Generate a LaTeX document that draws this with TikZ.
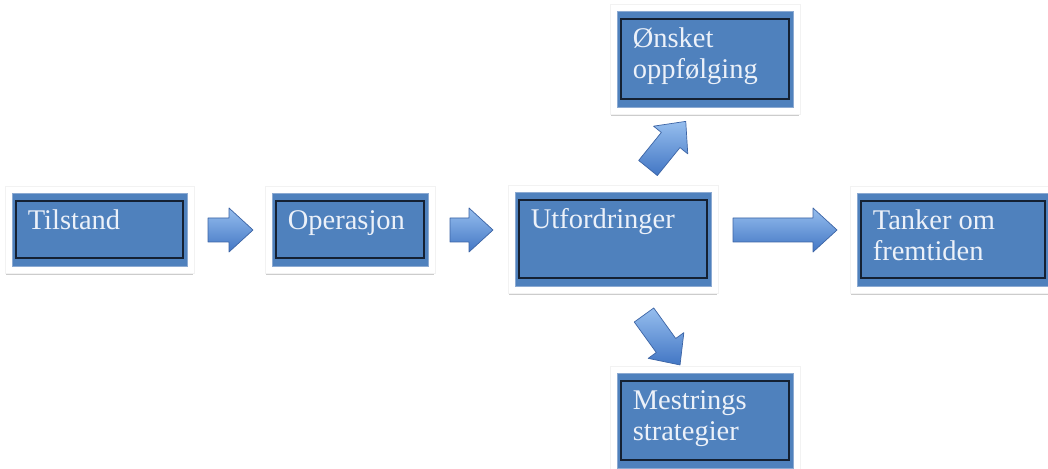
\documentclass[tikz,border=0pt]{standalone}
\usepackage{fontspec}
\setmainfont{Liberation Serif}
\usetikzlibrary{calc}
\definecolor{boxblue}{RGB}{79,129,189}
\definecolor{boxedge}{RGB}{140,170,210}
\definecolor{innerline}{RGB}{20,32,50}
\definecolor{txtc}{RGB}{236,241,249}
\definecolor{arrlight}{RGB}{150,190,238}
\definecolor{arrdark}{RGB}{66,118,196}
\definecolor{arredge}{RGB}{60,100,165}
\tikzset{
  backdrop/.style={fill=white, draw=black!5, line width=0.5pt},
  backshadow/.style={fill=black!20},
  outerbox/.style={fill=boxblue, draw=boxedge, line width=0.8pt, inner sep=0pt},
  innerbox/.style={draw=innerline, line width=1.4pt, inner sep=0pt},
  label/.style={anchor=north west, inner sep=0pt, text=txtc, align=left,
     font=\fontsize{28.5}{31}\selectfont},
  arrowsty/.style={top color=arrlight, bottom color=arrdark, draw=arredge, line width=0.7pt, line join=round}
}
\newcommand\mybox[6]{% name, centre, width, height, text
  \fill[backshadow] ($#2+(-#3/2-6,-#4/2-9)$) rectangle ($#2+(#3/2+6,#4/2+6)$);
  \fill[backdrop] ($#2+(-#3/2-7,-#4/2-7)$) rectangle ($#2+(#3/2+7,#4/2+7)$);
  \node[outerbox, minimum width=#3, minimum height=#4] (#1) at #2 {};
  \node[innerbox, minimum width=#3-8, minimum height=#4-16] (#1i) at #2 {};
  \node[label] (#1t) at ([shift={(16,-13)}]#1.north west) {\rule{0pt}{24pt}#5};
}
\newcommand\barrow[4]{% name, tail, angle, length
  \begin{scope}[shift={#2}, rotate=#3]
    \path[arrowsty] (0,-12) -- (#4-24,-12) -- (#4-24,-22) -- (#4,0) -- (#4-24,22) -- (#4-24,12) -- (0,12) -- cycle;
    \coordinate (#1s) at (0,0);
    \coordinate (#1e) at (#4,0);
  \end{scope}
}
\begin{document}
\begin{tikzpicture}[x=1pt,y=1pt]
\useasboundingbox (0,0) rectangle (1048,468);
\fill[white] (0,0) rectangle (1048,468);
\mybox{tilstand}{(99.5,238.5)}{175}{73}{Tilstand}{}
\mybox{operasjon}{(350,238.5)}{156}{73}{Operasjon}{}
\mybox{utford}{(613,229)}{196}{94}{Utfordringer}{}
\mybox{tanker}{(953,228.5)}{192}{93}{Tanker om\\fremtiden}{}
\mybox{onsket}{(705,409)}{176}{96}{Ønsket\\oppfølging}{}
\mybox{mestr}{(705,47.5)}{176}{95}{Mestrings\\strategier}{}
\barrow{a1}{(208,238)}{0}{45}
\barrow{a2}{(450,238)}{0}{43}
\barrow{a3}{(733,238)}{0}{104}
\barrow{a4}{(648,300)}{51}{60}
\barrow{a5}{(644,153)}{-54.2}{61.6}
\end{tikzpicture}
\end{document}
